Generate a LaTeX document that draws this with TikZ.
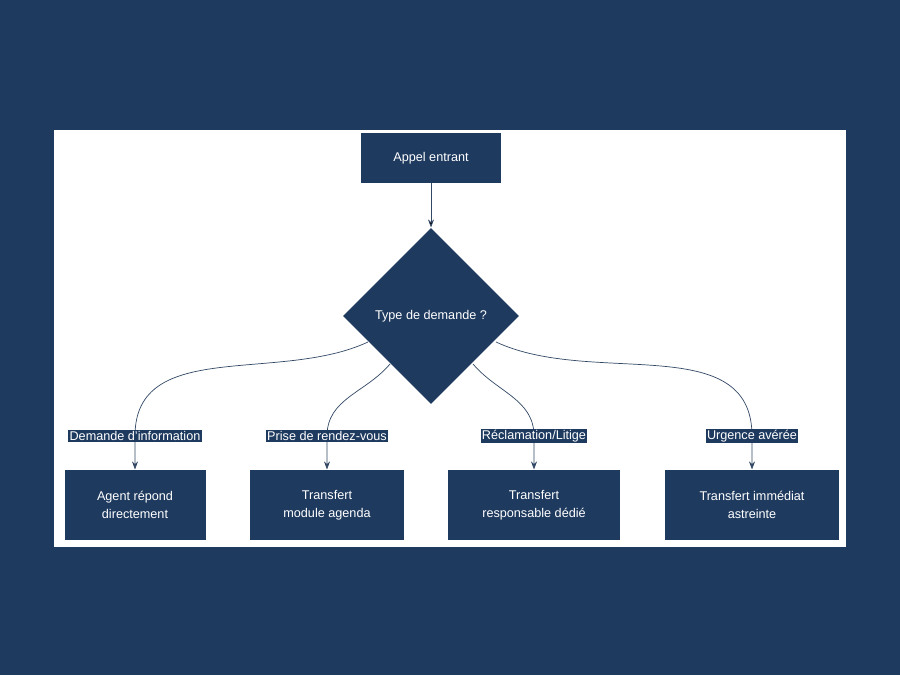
\documentclass[tikz,border=0pt]{standalone}
\usepackage{fontspec}
\setmainfont{Liberation Sans}
\usetikzlibrary{shapes.geometric,arrows.meta,calc}
\definecolor{navy}{HTML}{1F3A5F}
\begin{document}
\begin{tikzpicture}[thick,
    box node/.style={rectangle,fill=navy,text=white,align=center,font=\small,minimum height=1.75cm},
    lab node/.style={fill=navy,text=white,font=\small,inner sep=1pt},
    link/.style={draw=navy!80!gray,line width=0.5pt},
    arrow/.style={link,-{Stealth[length=2mm]}}]
    \fill[navy] (0,0) rectangle (22.5,16.875);
    \fill[white] (1.35,3.2) rectangle (21.15,13.625);

    \node[box node,minimum width=3.5cm,minimum height=1.225cm] at (10.775,12.925) (a) {Appel entrant};
    \node[diamond,fill=navy,text=white,font=\small,minimum width=4.4cm,minimum height=4.4cm,inner sep=0pt] at (10.775,8.975) (t) {Type de demande ?};

    \node[box node,minimum width=3.525cm] at (3.375,4.25) (b1) {Agent répond\\[2pt]directement};
    \node[box node,minimum width=3.85cm] at (8.175,4.25) (b2) {Transfert\\[2pt]module agenda};
    \node[box node,minimum width=4.3cm] at (13.35,4.25) (b3) {Transfert\\[2pt]responsable dédié};
    \node[box node,minimum width=4.35cm] at (18.8,4.25) (b4) {Transfert immédiat\\[2pt]astreinte};

    \coordinate (s1) at ($(t.center)+(-1.575,-0.65)$);
    \coordinate (s2) at ($(t.center)+(-1.025,-1.2)$);
    \coordinate (s3) at ($(t.center)+(1.05,-1.2)$);
    \coordinate (s4) at ($(t.center)+(1.625,-0.65)$);
    \coordinate (l1) at (3.375,5.975);
    \coordinate (l2) at (8.175,5.975);
    \coordinate (l3) at (13.35,5.975);
    \coordinate (l4) at (18.8,5.975);

    \path[arrow] (a) edge[] (t);
    \draw[arrow] (s1) to[out=-155,in=90] (l1) -- (b1.north);
    \draw[arrow] (s2) to[out=-130,in=90] (l2) -- (b2.north);
    \draw[arrow] (s3) to[out=-50,in=90] (l3) -- (b3.north);
    \draw[arrow] (s4) to[out=-25,in=90] (l4) -- (b4.north);

    \node[lab node] at (l1) (n1) {Demande d'information};
    \node[lab node] at (l2) (n2) {Prise de rendez-vous};
    \node[lab node] at (l3) (n3) {Réclamation/Litige};
    \node[lab node] at (l4) (n4) {Urgence avérée};
\end{tikzpicture}
\end{document}
